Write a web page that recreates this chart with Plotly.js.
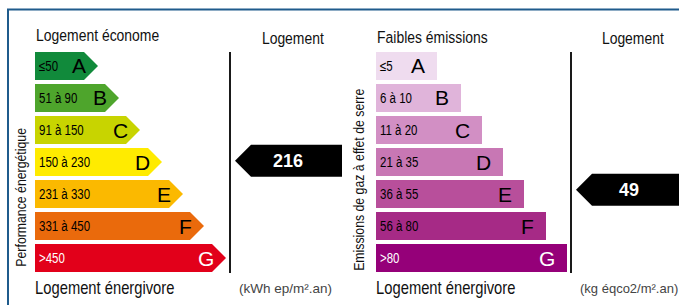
<!DOCTYPE html>
<html><head><meta charset="utf-8">
<script src="https://cdn.plot.ly/plotly-3.0.1.min.js"></script>
<style>html,body{margin:0;padding:0;background:#fff}#chart{width:679px;height:305px}</style>
</head><body><div id="chart"></div>
<script>
// ---- data ----
const classes = ['A','B','C','D','E','F','G'];
const energyRanges = ['≤50','51 à 90','91 à 150','150 à 230','231 à 330','331 à 450','>450'];
const gesRanges = ['≤5','6 à 10','11 à 20','21 à 35','36 à 55','56 à 80','>80'];
const energyLength = [63, 84, 105, 127, 148, 169, 191];
const gesLength = [61, 85, 106, 127, 148, 170, 191];
const energyColors = ['#118a3b','#4ea52c','#c8d400','#ffeb00','#fbb900','#ea6a0c','#e2001a'];
const gesColors = ['#efdcef','#e0b4da','#d28fc4','#c877b4','#b84f9b','#a62a86','#950079'];
const energyTextColors = ['#000','#000','#000','#000','#000','#000','#fff'];
const gesTextColors = ['#000','#000','#000','#000','#000','#000','#fff'];
const energyValue = 216, energyClass = 'D';
const gesValue = 49, gesClass = 'E';

// ---- style ----
const REG = 'Liberation Sans, Arial, sans-serif';
const NARROW_SCALE = 0.82;
const W = 679, H = 305;
const halfH = 0.4375, head = 14;
const px = v => v / W, py = v => 1 - v / H;

const traces = [];
const annotations = [];
const narrowIdx = [];
const shapes = [];

function addAnn(a, narrow) {
  annotations.push(a);
  if (narrow) narrowIdx.push(annotations.length - 1);
}

// Energy arrows
classes.forEach((c, i) => {
  const L = energyLength[i];
  traces.push({
    type: 'scatter', mode: 'lines', xaxis: 'x', yaxis: 'y',
    x: [0, L - head, L, L - head, 0, 0],
    y: [i - halfH, i - halfH, i, i + halfH, i + halfH, i - halfH],
    fill: 'toself', fillcolor: energyColors[i], line: {width: 0}, hoverinfo: 'skip', showlegend: false
  });
  addAnn({xref: 'x', yref: 'y', x: 2, y: i, xanchor: 'left', yanchor: 'middle', showarrow: false,
    text: energyRanges[i], font: {family: REG, size: 14, color: energyTextColors[i]}}, true);
  addAnn({xref: 'x', yref: 'y', x: L - 10, y: i, xanchor: 'right', yanchor: 'middle', showarrow: false,
    text: c, font: {family: REG, size: 21, color: energyTextColors[i]}}, false);
});

// GES bars
traces.push({
  type: 'bar', orientation: 'h', xaxis: 'x2', yaxis: 'y',
  x: gesLength, y: classes.map((c, i) => i), width: 2 * halfH,
  marker: {color: gesColors, line: {width: 0}}, hoverinfo: 'skip', showlegend: false
});
classes.forEach((c, i) => {
  const L = gesLength[i];
  addAnn({xref: 'x2', yref: 'y', x: 2, y: i, xanchor: 'left', yanchor: 'middle', showarrow: false,
    text: gesRanges[i], font: {family: REG, size: 14, color: gesTextColors[i]}}, true);
  addAnn({xref: 'x2', yref: 'y', x: L - 10, y: i, xanchor: 'right', yanchor: 'middle', showarrow: false,
    text: c, font: {family: REG, size: 21, color: gesTextColors[i]}}, false);
});

// Markers
function marker(xa, cls, value, dy, endX) {
  const r = classes.indexOf(cls) + dy;
  const tip = 200, mh = 16;
  traces.push({
    type: 'scatter', mode: 'lines', xaxis: xa, yaxis: 'y',
    x: [tip, tip + mh, endX, endX, tip + mh, tip],
    y: [r, r - 0.5, r - 0.5, r + 0.5, r + 0.5, r],
    fill: 'toself', fillcolor: '#000', line: {width: 0}, hoverinfo: 'skip', showlegend: false
  });
  addAnn({xref: xa, yref: 'y', x: 253, y: r, xanchor: 'center', yanchor: 'middle', showarrow: false,
    text: '<b>' + value + '</b>', font: {family: REG, size: 18, color: '#fff'}}, false);
}
marker('x', energyClass, energyValue, -0.04, 307);
marker('x2', gesClass, gesValue, -0.13, 800);

// Separators
['x', 'x2'].forEach(xa => {
  shapes.push({type: 'line', xref: xa, yref: 'y', x0: 195, x1: 195, y0: -0.44, y1: 6.47,
    line: {color: '#1a1a1a', width: 2}});
});

// Frame
shapes.push({type: 'rect', xref: 'paper', yref: 'paper', x0: px(8), x1: px(700), y0: py(9.5), y1: py(330),
  line: {color: '#1f5b8c', width: 2}, fillcolor: 'rgba(0,0,0,0)'});

// Header / footer texts (paper coords in px)
const txt = (xPx, yPx, text, anchor, size, color, narrow) => addAnn({
  xref: 'paper', yref: 'paper', x: px(xPx), y: py(yPx), xanchor: anchor, yanchor: 'middle', showarrow: false,
  text: text, font: {family: REG, size: size, color: color}}, narrow);
txt(34, 36, 'Logement économe', 'left', 17, '#111', true);
txt(292.5, 38, 'Logement', 'center', 17, '#111', true);
txt(375, 37, 'Faibles émissions', 'left', 17, '#111', true);
txt(633, 39, 'Logement', 'center', 17, '#111', true);
txt(33, 288, 'Logement énergivore', 'left', 18, '#111', true);
txt(374, 288, 'Logement énergivore', 'left', 18, '#111', true);
txt(237, 288, '(kWh ep/m².an)', 'left', 13.5, '#444', false);
txt(578, 288, '(kg éqco2/m².an)', 'left', 13, '#444', false);

addAnn({xref: 'paper', yref: 'paper', x: px(20), y: py(198), xanchor: 'center', yanchor: 'middle',
  showarrow: false, textangle: -90, text: 'Performance énergétique', font: {family: REG, size: 15, color: '#111'}}, true);
addAnn({xref: 'paper', yref: 'paper', x: px(358), y: py(180), xanchor: 'center', yanchor: 'middle',
  showarrow: false, textangle: -90, text: 'Emissions de gaz à effet de serre', font: {family: REG, size: 15, color: '#111'}}, true);

const hidden = {visible: false, fixedrange: true};
const layout = {
  width: W, height: H, margin: {l: 0, r: 0, t: 0, b: 0},
  paper_bgcolor: '#fff', plot_bgcolor: 'rgba(0,0,0,0)', showlegend: false,
  xaxis: Object.assign({domain: [px(35), 1], range: [0, 644], anchor: 'y'}, hidden),
  xaxis2: Object.assign({domain: [px(376), 1], range: [0, 303], anchor: 'y'}, hidden),
  yaxis: Object.assign({domain: [py(274), py(50)], range: [6.5, -0.5]}, hidden),
  bargap: 0, annotations: annotations, shapes: shapes
};

function condense() {
  const nodes = document.querySelectorAll('#chart g.annotation');
  nodes.forEach(g => {
    const idx = +g.getAttribute('data-index');
    if (narrowIdx.indexOf(idx) < 0) return;
    const a = annotations[idx];
    const t = g.querySelector('text.annotation-text');
    if (!t) return;
    const origin = a.xanchor === 'left' ? '0% 50%' : (a.xanchor === 'right' ? '100% 50%' : '50% 50%');
    t.style.transformBox = 'fill-box';
    t.style.transformOrigin = origin;
    t.style.transform = 'scaleX(' + NARROW_SCALE + ')';
  });
}
Plotly.newPlot('chart', traces, layout, {staticPlot: true, displayModeBar: false}).then(condense);
</script></body></html>
